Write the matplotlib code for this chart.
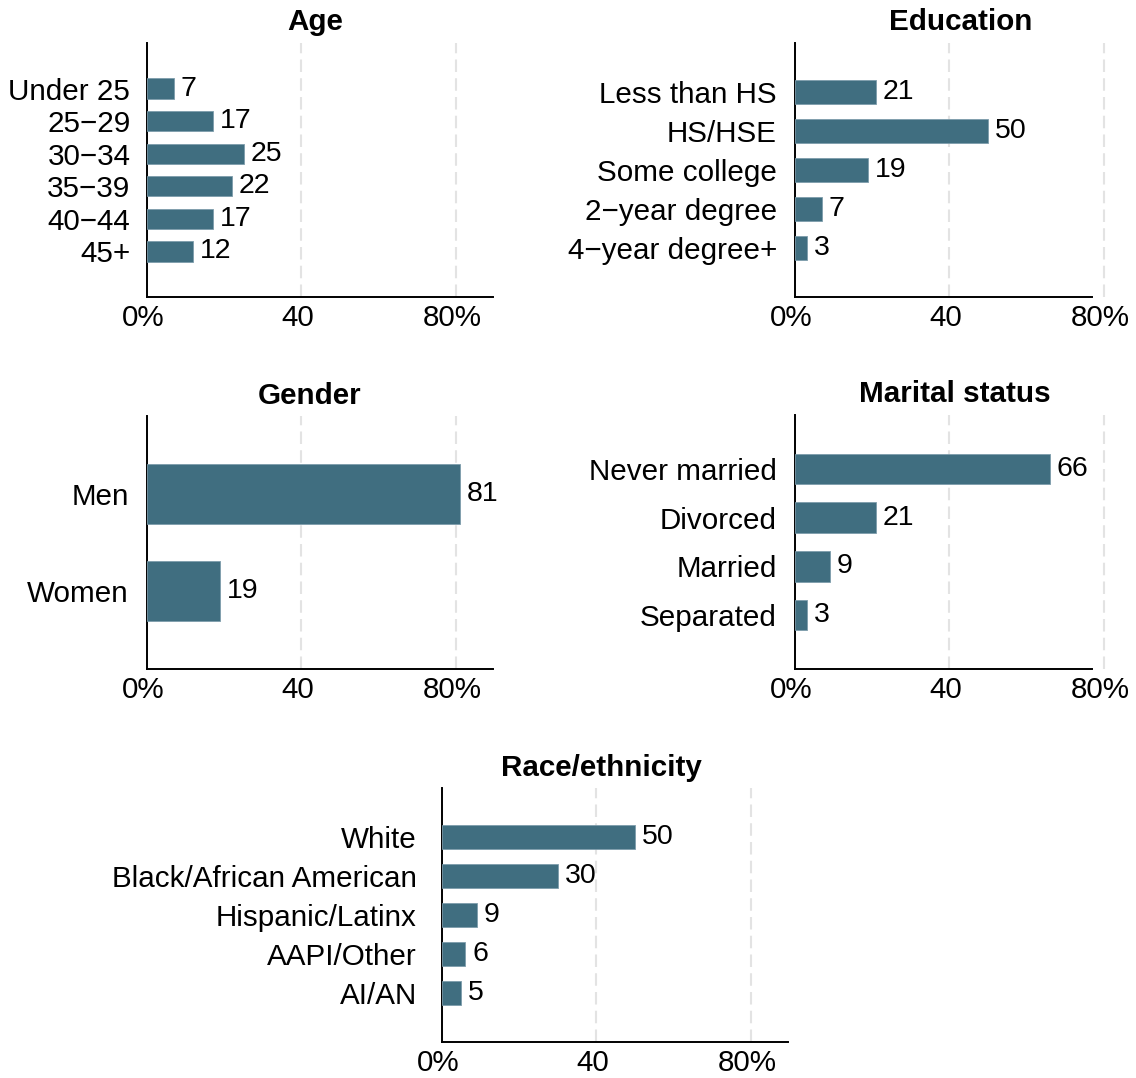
import numpy as np
import matplotlib
matplotlib.use("Agg")
import matplotlib.pyplot as plt
from matplotlib.transforms import ScaledTranslation

plt.rcParams['font.family'] = ['Liberation Sans', 'DejaVu Sans']

# Sample composition, percent of respondents
age_labels = ['Under 25', '25\u221229', '30\u221234', '35\u221239', '40\u221244', '45+']
age_values = [7, 17, 25, 22, 17, 12]

edu_labels = ['Less than HS', 'HS/HSE', 'Some college', '2\u2212year degree', '4\u2212year degree+']
edu_values = [21, 50, 19, 7, 3]

gender_labels = ['Men', 'Women']
gender_values = [81, 19]

marital_labels = ['Never married', 'Divorced', 'Married', 'Separated']
marital_values = [66, 21, 9, 3]

race_labels = ['White', 'Black/African American', 'Hispanic/Latinx', 'AAPI/Other', 'AI/AN']
race_values = [50, 30, 9, 6, 5]

x_ticks = [0, 40, 80]
x_ticklabels = ['0%', '40', '80%']

BAR = '#406e80'
W, H = 1136, 1078
PX = 3.86  # pixels per percentage point
FS = 21.3

fig = plt.figure(figsize=(W / 100, H / 100), dpi=100)


def panel(left, top, bottom, xmax, spine_end, title, title_x, labels, values, ypad=12):
    width = xmax * PX
    ax = fig.add_axes([left / W, 1 - bottom / H, width / W, (bottom - top) / H])
    n = len(labels)
    y = np.arange(n)
    # keep a fixed outer margin, split the rest into equal slots
    frac = 0.115
    total = n / (1 - 2 * frac)
    pad = (total - n) / 2
    ax.set_ylim(n - 0.5 + pad, -0.5 - pad)
    ax.set_xlim(0, xmax)

    ax.barh(y, values, height=0.62, color=BAR, edgecolor='#7d9cab',
            linewidth=0.6, zorder=3)
    for yi, v in zip(y, values):
        ax.annotate(f'{v}', (v, yi), xytext=(5, 0), textcoords='offset points',
                    va='center', ha='left', fontsize=20.5, color='black')

    ax.set_yticks(y)
    ax.set_yticklabels(labels, fontsize=FS)
    ax.set_xticks(x_ticks)
    ax.set_xticklabels(x_ticklabels, fontsize=FS)
    ax.tick_params(axis='both', length=0)
    ax.tick_params(axis='y', pad=ypad)
    ax.tick_params(axis='x', pad=5)
    shift = ScaledTranslation(-4 / 100, 0, fig.dpi_scale_trans)
    for lab in ax.get_xticklabels():
        lab.set_transform(lab.get_transform() + shift)

    ax.grid(axis='x', color='#e3e3e3', linestyle=(0, (6, 3)), linewidth=1.5, zorder=0)
    ax.grid(axis='y', visible=False)
    for s in ['top', 'right']:
        ax.spines[s].set_visible(False)
    for s in ['left', 'bottom']:
        ax.spines[s].set_linewidth(1.4)
        ax.spines[s].set_color('black')
    ax.spines['bottom'].set_bounds(0, spine_end)
    ax.set_title(title, fontsize=FS, fontweight='bold', x=title_x, pad=9)
    return ax


panel(147, 43, 297, 89.7, 89.7, 'Age', 0.486, age_labels, age_values)
panel(795, 43, 297, 81, 77, 'Education', 0.53, edu_labels, edu_values, ypad=13)
panel(147, 416, 669, 89.7, 89.7, 'Gender', 0.47, gender_labels, gender_values, ypad=13)
panel(795, 415, 669, 81, 77, 'Marital status', 0.51, marital_labels, marital_values, ypad=13)
panel(442, 788, 1042, 89.7, 89.7, 'Race/ethnicity', 0.46, race_labels, race_values, ypad=18)

plt.savefig('out.png', dpi=100)
